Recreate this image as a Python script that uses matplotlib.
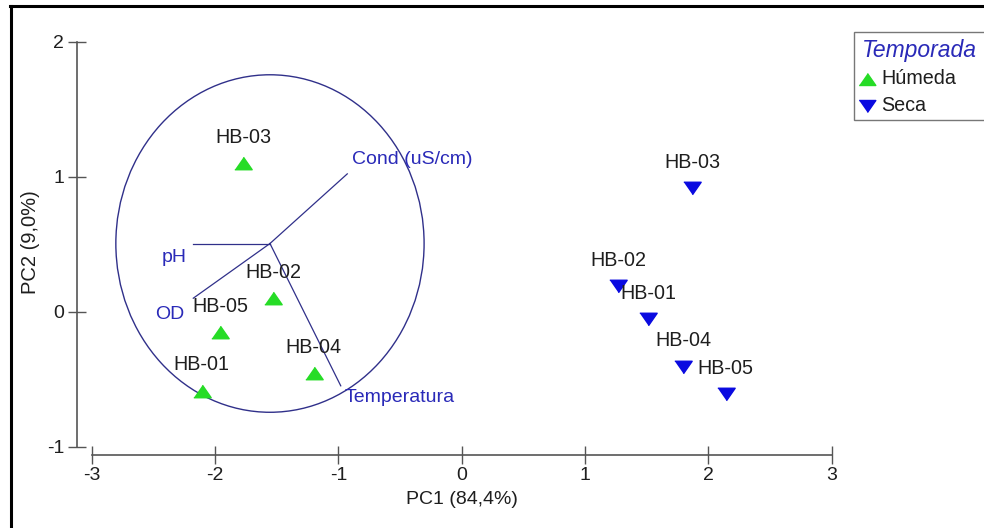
import matplotlib
matplotlib.use('Agg')
import matplotlib.pyplot as plt
from matplotlib.lines import Line2D
from matplotlib.patches import Circle, Rectangle

plt.rcParams['font.family'] = ['Liberation Sans', 'DejaVu Sans']

# ---- data ----
sites = ['HB-01', 'HB-02', 'HB-03', 'HB-04', 'HB-05']
humeda_pc1 = [-2.11, -1.53, -1.77, -1.20, -1.96]
humeda_pc2 = [-0.585, 0.10, 1.10, -0.455, -0.15]
seca_pc1 = [1.51, 1.27, 1.87, 1.795, 2.14]
seca_pc2 = [-0.056, 0.19, 0.915, -0.407, -0.61]

variables = ['Cond (uS/cm)', 'pH', 'OD', 'Temperatura']
vec_dx = [0.627, -0.622, -0.622, 0.574]
vec_dy = [0.516, 0.0, -0.405, -1.054]
circle_center = (-1.555, 0.505)
circle_radius = 1.25

xticks = [-3, -2, -1, 0, 1, 2, 3]
yticks = [-1, 0, 1, 2]
xlabel = 'PC1 (84,4%)'
ylabel = 'PC2 (9,0%)'
legend_title = 'Temporada'
groups = ['Húmeda', 'Seca']

# ---- style ----
W, H = 984, 528
fig = plt.figure(figsize=(W / 100, H / 100), dpi=100)
ax_l, ax_r, ax_b, ax_t = 77.3, 860, 455, 30
ax = fig.add_axes([ax_l / W, 1 - ax_b / H, (ax_r - ax_l) / W, (ax_b - ax_t) / H])

px_per_x = 123.3
px_per_y = 135.0
x0_px, y0_px = 461.7, 311.7
ax.set_xlim((ax_l - x0_px) / px_per_x, (ax_r - x0_px) / px_per_x)
ax.set_ylim((y0_px - ax_b) / px_per_y, (y0_px - ax_t) / px_per_y)

green = '#26dc26'
blue = '#0a0ae0'
navy = '#30308a'
vec_text = '#2a2ab8'
text_col = '#1e1e1e'

up_tri = [(-1, -0.72), (1, -0.72), (0, 0.72)]
down_tri = [(-1, 0.72), (1, 0.72), (0, -0.72)]

# circle and vectors
ax.add_patch(Circle(circle_center, circle_radius, fill=False, edgecolor=navy, lw=1.0, zorder=1))
label_offsets = [(3.6, 10.5), (-4.5, -10.0), (-6.5, -11.5), (3.0, -8.5)]
label_ha = ['left', 'right', 'right', 'left']
cx, cy = circle_center
for name, dx, dy, off, ha in zip(variables, vec_dx, vec_dy, label_offsets, label_ha):
    ax.plot([cx, cx + dx], [cy, cy + dy], color=navy, lw=0.9, zorder=2)
    ax.annotate(name, (cx + dx, cy + dy), xytext=off, textcoords='offset points',
                ha=ha, va='center', fontsize=14, color=vec_text, zorder=3)

# points
ax.plot(humeda_pc1, humeda_pc2, linestyle='none', marker=up_tri, ms=12.5,
        color=green, mec=green, zorder=4)
ax.plot(seca_pc1, seca_pc2, linestyle='none', marker=down_tri, ms=12.5,
        color=blue, mec=blue, zorder=4)
for s, x, y in zip(sites, humeda_pc1, humeda_pc2):
    ax.annotate(s, (x, y), xytext=(0, 18.5), textcoords='offset points',
                ha='center', va='center', fontsize=14.2, color=text_col, zorder=5)
for s, x, y in zip(sites, seca_pc1, seca_pc2):
    ax.annotate(s, (x, y), xytext=(0, 18.5), textcoords='offset points',
                ha='center', va='center', fontsize=14.2, color=text_col, zorder=5)

# axes styling
for sp in ['top', 'right']:
    ax.spines[sp].set_visible(False)
for sp in ['left', 'bottom']:
    ax.spines[sp].set_color('#555555')
    ax.spines[sp].set_linewidth(1.2)
ax.spines['left'].set_bounds(yticks[0], yticks[-1])
ax.spines['bottom'].set_bounds(xticks[0], xticks[-1])
ax.set_xticks(xticks)
ax.set_yticks(yticks)
ax.set_xticklabels([str(v) for v in xticks])
ax.set_yticklabels([str(v) for v in yticks])
ax.tick_params(axis='both', direction='inout', length=13, width=1.0, color='#555555',
               labelsize=14, labelcolor=text_col)
ax.tick_params(axis='x', pad=2)
ax.tick_params(axis='y', pad=3)
ax.patch.set_alpha(0)

ax.set_xlabel(xlabel, fontsize=14, color=text_col)
ax.set_ylabel(ylabel, fontsize=14.5, color=text_col)
ax.xaxis.set_label_coords((x0_px - ax_l) / (ax_r - ax_l), (ax_b - 500) / (ax_b - ax_t))
ax.xaxis.label.set_va('center')
ax.yaxis.set_label_coords((30 - ax_l) / (ax_r - ax_l), 0.5)
ax.yaxis.label.set_va('center')

# legend (drawn in figure pixel coordinates)
def fx(px):
    return px / W

def fy(py):
    return 1 - py / H

fig.add_artist(Rectangle((fx(854), fy(120)), fx(1000) - fx(854), fy(32) - fy(120),
                         transform=fig.transFigure, facecolor='white',
                         edgecolor='#777777', lw=1.0, zorder=5))
fig.text(fx(862), fy(50), legend_title, fontsize=16.5, fontstyle='italic',
         color=vec_text, ha='left', va='center', zorder=6)
for label, marker, col, py in zip(groups, [up_tri, down_tri], [green, blue], [78.5, 106]):
    fig.add_artist(Line2D([fx(866.5)], [fy(py)], transform=fig.transFigure,
                          linestyle='none', marker=marker, ms=12, color=col,
                          mec=col, zorder=6))
    fig.text(fx(881), fy(py), label, fontsize=14.2, color=text_col,
             ha='left', va='center', zorder=6)

# figure border (top and left)
fig.add_artist(Line2D([10 / W, 1], [1 - 6 / H, 1 - 6 / H], transform=fig.transFigure,
                      color='black', lw=2.2))
fig.add_artist(Line2D([11 / W, 11 / W], [0, 1 - 6 / H], transform=fig.transFigure,
                      color='black', lw=2.2))

fig.savefig('out.png', dpi=100)
